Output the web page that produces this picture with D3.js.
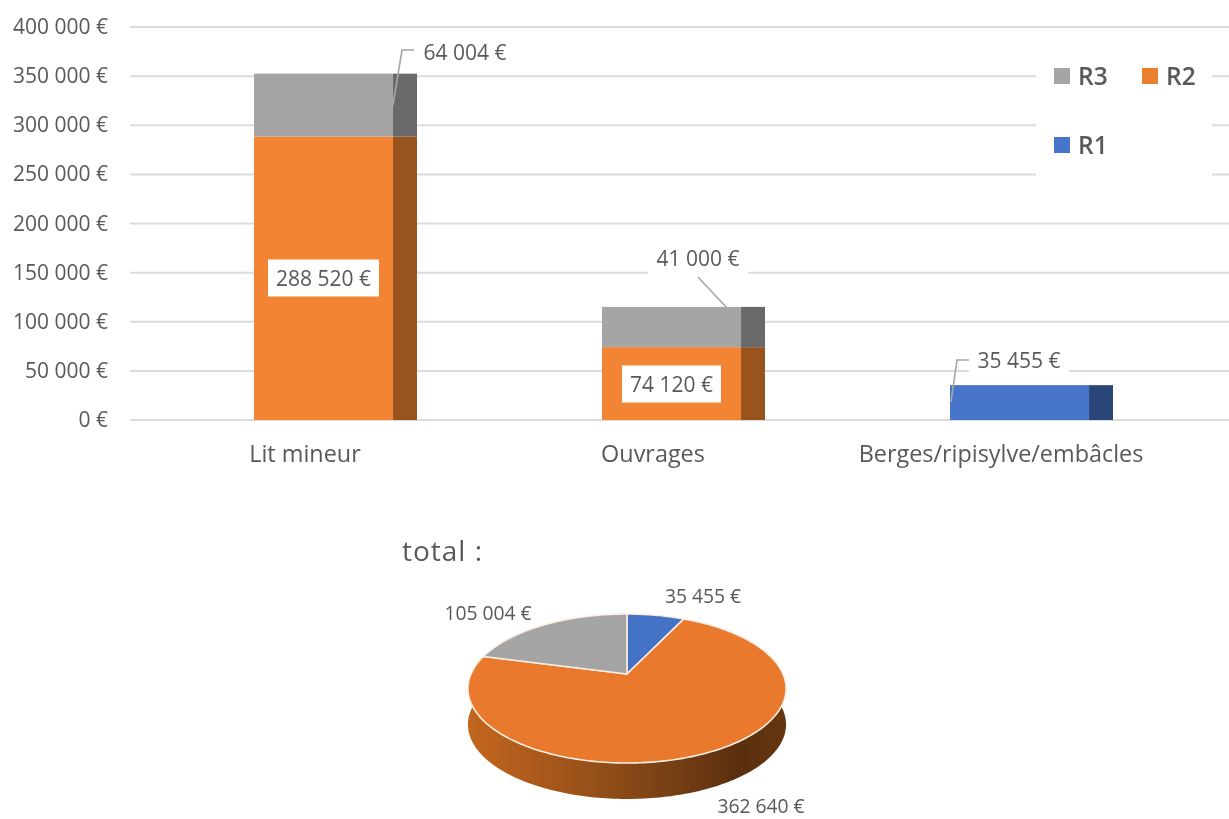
<!DOCTYPE html>
<html><head><meta charset="utf-8">
<script src="https://cdn.jsdelivr.net/npm/d3@7"></script>
<style>html,body{margin:0;padding:0;background:#fff}svg{display:block;filter:blur(0.45px)}text{font-family:"Open Sans",sans-serif;fill:#595959}</style>
</head><body><svg id="c" width="1229" height="819"></svg>
<script>
const categories = ["Lit mineur","Ouvrages","Berges/ripisylve/embâcles"];
const seriesNames = ["R2","R3","R1"];
const r2 = [288520,74120,0];
const r3 = [64004,41000,0];
const r1 = [0,0,35455];
const yTicks = [0,50000,100000,150000,200000,250000,300000,350000,400000];
const pieLabels = ["R1","R2","R3"];
const pieValues = [35455,362640,105004];
const colors = {R1:"#4775c9",R2:"#f28433",R3:"#a5a5a5"};
const darks = {R1:"#2a4679",R2:"#99531c",R3:"#696969"};
const pieColors = {R1:"#4472c4",R2:"#e8792d",R3:"#a5a5a5"};

const fmt = v => d3.format(",")(v).replace(/,/g," ")+" €";
const svg = d3.select("#c");
const y = d3.scaleLinear().domain([0,400000]).range([420,27]);
const x = d3.scaleBand().domain(categories).range([161.5,1205.5]).paddingInner(0.5316).paddingOuter(0.2658);
const frontShare = 0.853;

// grid
svg.append("g").selectAll("line").data(yTicks).join("line")
  .attr("x1",130).attr("x2",1229).attr("y1",d=>y(d)).attr("y2",d=>y(d))
  .attr("stroke","#dcdcdc").attr("stroke-width",2);
// y labels
svg.append("g").selectAll("text").data(yTicks).join("text")
  .attr("x",108).attr("y",d=>y(d)-0.5).attr("dy","0.36em").attr("text-anchor","end")
  .attr("font-size",21).text(fmt);
// x labels
svg.append("g").selectAll("text").data(categories).join("text")
  .attr("x",c=>x(c)+51).attr("y",454).attr("dy","0.36em")
  .attr("text-anchor","middle").attr("font-size",23.4).text(d=>d);

// stacked bars
const rows = categories.map((c,i)=>({cat:c,R2:r2[i],R3:r3[i],R1:r1[i]}));
const stack = d3.stack().keys(seriesNames)(rows);
const bars = svg.append("g");
stack.forEach(s=>{
  s.forEach(d=>{
    if(d[1]===d[0])return;
    const bw=x.bandwidth(), x0=x(d.data.cat);
    bars.append("rect").attr("x",x0).attr("width",bw*frontShare).attr("y",y(d[1])).attr("height",y(d[0])-y(d[1])).attr("fill",colors[s.key]);
    bars.append("rect").attr("x",x0+bw*frontShare).attr("width",bw*(1-frontShare)).attr("y",y(d[1])).attr("height",y(d[0])-y(d[1])).attr("fill",darks[s.key]);
  });
});

// boxed labels
function label(txt,cx,cy,w,h,size){
  svg.append("rect").attr("x",cx-w/2).attr("y",cy-h/2).attr("width",w).attr("height",h).attr("fill","#fff");
  svg.append("text").attr("x",cx).attr("y",cy).attr("dy","0.36em").attr("text-anchor","middle").attr("font-size",size||21).text(txt);
}
label(fmt(r2[0]),323.5,278,111,37);
label(fmt(r2[1]),671.5,384,99,37);
label(fmt(r3[1]),698,258,100,36);
label(fmt(r3[0]),465,52,100,26);
label(fmt(r1[2]),1019,360,100,26);

// leader lines
const leader = d3.line();
[[[393,105],[402,50],[414,50]],[[698,277],[727,308]],[[951,402],[957,360],[969,360]]].forEach(p=>{
  svg.append("path").attr("d",leader(p)).attr("fill","none").attr("stroke","#a6a6a6").attr("stroke-width",1.6);
});

// legend
svg.append("rect").attr("x",1036).attr("y",58).attr("width",176).attr("height",118).attr("fill","#fff");
[["R3",1054,76],["R2",1142,76],["R1",1054,145]].forEach(([k,lx,ly])=>{
  svg.append("rect").attr("x",lx).attr("y",ly-8).attr("width",16).attr("height",16).attr("fill",k==="R2"?"#ed7d31":colors[k]);
  svg.append("text").attr("x",lx+24).attr("y",ly).attr("dy","0.36em").attr("font-size",24.5).attr("font-weight",600).text(k);
});

// pie title
svg.append("text").attr("x",402).attr("y",551).attr("dy","0.36em").attr("font-size",28).attr("letter-spacing",1).text("total :");

// pie in perspective
const pcx=627, pcy=674, b=0.1946, a=71.68, k=156, depth=36;
const proj=(ang)=>{const u=Math.sin(ang),v=-Math.cos(ang),w=1-b*v;return [pcx+k*u/w,pcy+a*v/w];};
const defs=svg.append("defs");
const grad=defs.append("linearGradient").attr("id","side").attr("gradientUnits","userSpaceOnUse").attr("x1",468).attr("x2",786).attr("y1",0).attr("y2",0);
[[0,"#c2661f"],[0.15,"#b35e1d"],[0.45,"#8f4c18"],[0.7,"#6f3b13"],[0.85,"#5a2f0f"],[1,"#66360f"]].forEach(([o,c])=>grad.append("stop").attr("offset",o).attr("stop-color",c));
const samples=d3.range(-Math.PI/2-0.2,Math.PI/2+0.2001,0.02).map(t=>proj(Math.PI-t));
const sidePts=samples.concat(samples.slice().reverse().map(p=>[p[0],p[1]+depth]));
svg.append("path").attr("d",d3.line()(sidePts)+"Z").attr("fill","url(#side)");

const arcs=d3.pie().sort(null).value(d=>d)(pieValues);
arcs.forEach((d,i)=>{
  const n=Math.max(2,Math.ceil((d.endAngle-d.startAngle)/0.02));
  const pts=[[pcx,pcy]].concat(d3.range(n+1).map(j=>proj(d.startAngle+(d.endAngle-d.startAngle)*j/n)));
  svg.append("path").attr("d",d3.line()(pts)+"Z").attr("fill",pieColors[pieLabels[i]])
    .attr("stroke","#fbeee2").attr("stroke-width",1.6).attr("stroke-linejoin","round");
});
const pl=[[703,596],[761,806],[488,613]];
pieValues.forEach((v,i)=>svg.append("text").attr("x",pl[i][0]).attr("y",pl[i][1]).attr("dy","0.36em").attr("text-anchor","middle").attr("font-size",19.3).text(fmt(v)));
</script></body></html>
